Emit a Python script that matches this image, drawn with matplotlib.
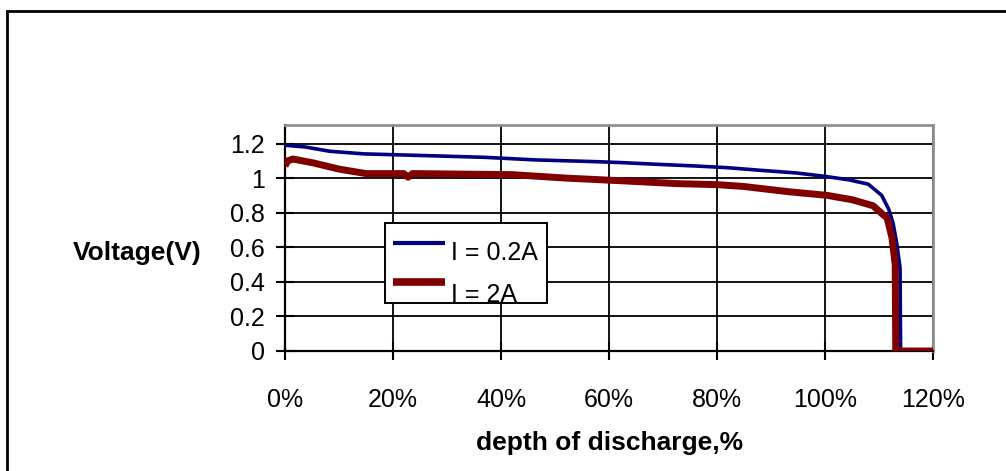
import matplotlib
matplotlib.use("Agg")
import matplotlib.pyplot as plt
from matplotlib.patches import Rectangle
from matplotlib.lines import Line2D
from matplotlib.ticker import FuncFormatter

plt.rcParams['font.family'] = ['Liberation Sans', 'DejaVu Sans']

# depth of discharge (fraction) and voltage
x_low = [0.0, 0.037, 0.083, 0.146, 0.26, 0.37, 0.465, 0.576, 0.62, 0.687, 0.76, 0.82,
         0.88, 0.946, 1.0, 1.044, 1.08, 1.105, 1.118, 1.126, 1.133, 1.139, 1.140, 1.20]
v_low = [1.19, 1.18, 1.155, 1.14, 1.13, 1.12, 1.105, 1.095, 1.09, 1.08, 1.07, 1.06,
         1.045, 1.03, 1.01, 0.99, 0.965, 0.90, 0.82, 0.74, 0.62, 0.48, 0.0, 0.0]

x_high = [0.0, 0.005, 0.015, 0.052, 0.10, 0.15, 0.22, 0.228, 0.236, 0.42, 0.52, 0.62,
          0.726, 0.80, 0.848, 0.93, 1.004, 1.05, 1.089, 1.107, 1.115, 1.124, 1.130, 1.131, 1.20]
v_high = [1.07, 1.10, 1.11, 1.088, 1.052, 1.026, 1.026, 1.005, 1.026, 1.02, 1.0, 0.985,
          0.968, 0.962, 0.952, 0.922, 0.90, 0.875, 0.84, 0.79, 0.77, 0.655, 0.50, 0.0, 0.0]

labels = ["I = 0.2A", "I = 2A"]
x_ticks = [0.0, 0.2, 0.4, 0.6, 0.8, 1.0, 1.2]
y_ticks = [0.0, 0.2, 0.4, 0.6, 0.8, 1.0, 1.2]
y_ticklabels = ["0", "0.2", "0.4", "0.6", "0.8", "1", "1.2"]

W, H = 1006, 471
fig = plt.figure(figsize=(W / 100, H / 100), dpi=100)

def fx(px):
    return px / W

def fy(py):
    return 1 - py / H

left, right, top, bottom = 285, 933, 125, 351
ax = fig.add_axes([fx(left), fy(bottom), fx(right - left), (bottom - top) / H])

blue = '#000080'
red = '#800000'
ax.plot(x_low, v_low, color=blue, lw=2.6, zorder=3, solid_capstyle='butt')
ax.plot(x_high, v_high, color=red, lw=5.0, zorder=4, solid_capstyle='butt')

ax.set_xlim(0, 1.2)
ax.set_ylim(0, 1.307)
ax.set_xticks(x_ticks)
ax.set_yticks(y_ticks)
ax.set_yticklabels(y_ticklabels)
ax.xaxis.set_major_formatter(FuncFormatter(lambda v, p: f"{v*100:.0f}%"))
ax.grid(True, color='black', lw=1.3)
ax.set_axisbelow(True)

ax.tick_params(axis='both', direction='inout', length=13, width=1.5, labelsize=18, colors='black')
ax.tick_params(axis='x', pad=20)
ax.tick_params(axis='y', pad=8)
for s in ['left', 'bottom']:
    ax.spines[s].set_color('black')
    ax.spines[s].set_linewidth(1.6)
for s in ['top', 'right']:
    ax.spines[s].set_color('#909090')
    ax.spines[s].set_linewidth(2)

# axis titles
fig.text(fx(137), fy(253), "Voltage(V)", fontsize=19, fontweight='bold', ha='center', va='center')
fig.text(fx(610), fy(443), "depth of discharge,%", fontsize=19, fontweight='bold', ha='center', va='center')

# legend (manual)
fig.add_artist(Rectangle((fx(385), fy(303)), fx(547 - 385), (303 - 223) / H,
                         transform=fig.transFigure, facecolor='white', edgecolor='black', lw=1.4, zorder=10))
fig.add_artist(Line2D([fx(393), fx(445)], [fy(243), fy(243)], color=blue, lw=3, zorder=11,
                      transform=fig.transFigure, solid_capstyle='butt'))
fig.add_artist(Line2D([fx(393), fx(445)], [fy(281.5), fy(281.5)], color=red, lw=5.5, zorder=11,
                      transform=fig.transFigure, solid_capstyle='butt'))
fig.text(fx(451), fy(253), labels[0], fontsize=18, ha='left', va='center', zorder=12)
fig.text(fx(451), fy(295), labels[1], fontsize=18, ha='left', va='center', zorder=12)

# outer chart border
fig.add_artist(Rectangle((fx(7), fy(490)), fx(1020), (490 - 11) / H, transform=fig.transFigure,
                         facecolor='none', edgecolor='black', lw=2, zorder=20, clip_on=False))

fig.savefig("out.png", dpi=100)
